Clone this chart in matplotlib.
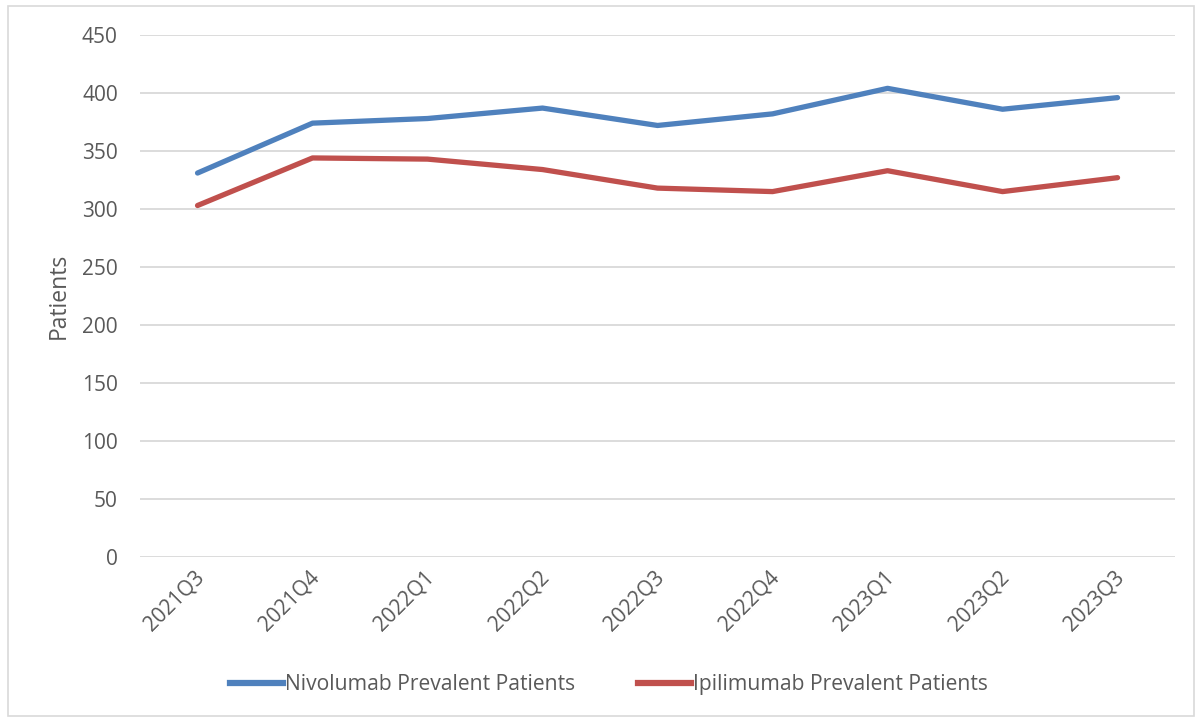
import matplotlib.pyplot as plt
import matplotlib.transforms as mtransforms
from matplotlib.patches import Rectangle
from matplotlib.lines import Line2D

quarters = ["2021Q3", "2021Q4", "2022Q1", "2022Q2", "2022Q3",
            "2022Q4", "2023Q1", "2023Q2", "2023Q3"]
nivolumab = [331, 374, 378, 387, 372, 382, 404, 386, 396]
ipilimumab = [303, 344, 343, 334, 318, 315, 333, 315, 327]
y_ticks = [0, 50, 100, 150, 200, 250, 300, 350, 400, 450]

plt.rcParams['font.family'] = ['Open Sans', 'DejaVu Sans']
text_color = '#595959'
blue = '#4F81BD'
red = '#C0504D'

fig = plt.figure(figsize=(12, 7.2), dpi=100)
fig.patches.append(Rectangle((0.007, 0.006), 0.988, 0.986, transform=fig.transFigure,
                             fill=False, edgecolor='#D9D9D9', linewidth=1.2))

ax = fig.add_axes([0.1167, 0.2264, 0.8625, 0.725])
x = list(range(len(quarters)))
ax.plot(x, nivolumab, color=blue, linewidth=3.8, solid_capstyle='round',
        solid_joinstyle='round', label='Nivolumab Prevalent Patients', zorder=3)
ax.plot(x, ipilimumab, color=red, linewidth=3.8, solid_capstyle='round',
        solid_joinstyle='round', label='Ipilimumab Prevalent Patients', zorder=3)

ax.set_xlim(-0.5, len(quarters) - 0.5)
ax.set_ylim(0, 450)
ax.set_yticks(y_ticks)
ax.set_yticklabels([str(v) for v in y_ticks], fontsize=15, color=text_color)
ax.set_xticks(x)
ax.set_xticklabels(quarters, rotation=45, ha='right', va='top',
                   fontsize=15, color=text_color)
ax.tick_params(axis='both', length=0)
ax.tick_params(axis='y', pad=16)
ax.tick_params(axis='x', pad=7)
# nudge rotated category labels so their upper end sits at the category centre
offset = mtransforms.ScaledTranslation(8 / 72, 0, fig.dpi_scale_trans)
for lbl in ax.get_xticklabels():
    lbl.set_transform(lbl.get_transform() + offset)
ax.grid(axis='y', color='#D9D9D9', linewidth=1.3)
ax.set_axisbelow(True)
for s in ax.spines.values():
    s.set_visible(False)

ax.set_ylabel('Patients', fontsize=16.5, color=text_color)
ax.yaxis.set_label_coords(-0.067, 0.5)

handles = [Line2D([], [], color=blue, linewidth=4.5),
           Line2D([], [], color=red, linewidth=4.5)]
fig.legend(handles, ['Nivolumab Prevalent Patients', 'Ipilimumab Prevalent Patients'],
           loc='center', bbox_to_anchor=(0.5075, 0.049), ncol=2, frameon=False,
           fontsize=15.2, labelcolor=text_color, handlelength=2.5, handletextpad=0.1,
           columnspacing=3.0)

fig.savefig('out.png', dpi=100)
